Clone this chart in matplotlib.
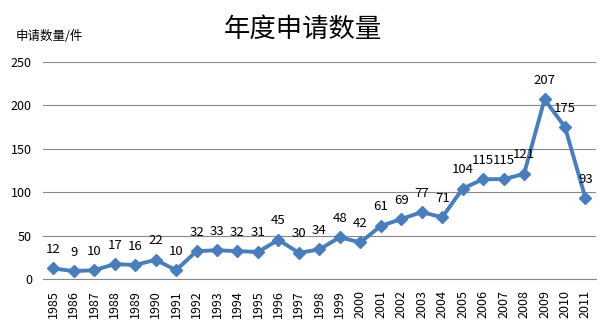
import matplotlib
matplotlib.use("Agg")
import matplotlib.pyplot as plt

plt.rcParams['font.family'] = ['Noto Sans CJK SC', 'DejaVu Sans']

years = ['1985', '1986', '1987', '1988', '1989', '1990', '1991', '1992', '1993',
         '1994', '1995', '1996', '1997', '1998', '1999', '2000', '2001', '2002',
         '2003', '2004', '2005', '2006', '2007', '2008', '2009', '2010', '2011']
counts = [12, 9, 10, 17, 16, 22, 10, 32, 33, 32, 31, 45, 30, 34, 48, 42,
          61, 69, 77, 71, 104, 115, 115, 121, 207, 175, 93]
y_ticks = [0, 50, 100, 150, 200, 250]

fig = plt.figure(figsize=(6.06, 3.32), dpi=100)
ax = fig.add_axes([0.071, 0.160, 0.912, 0.653])

x = list(range(len(years)))
ax.plot(x, counts, color='#4A7EBB', linewidth=2.8, marker='D', markersize=6.5,
        zorder=3)

# value labels above each point
for xi, v in zip(x, counts):
    ax.annotate(str(v), (xi, v), xytext=(0, 9), textcoords='offset points',
                ha='center', va='bottom', fontsize=9.5, color='black')

ax.set_xlim(-0.5, len(years) - 0.5)
ax.set_ylim(0, 250)
ax.set_yticks(y_ticks)
ax.set_xticks(x)
ax.set_xticklabels(years, rotation=90, fontsize=9)
ax.tick_params(axis='y', labelsize=9, length=0, pad=8)
ax.tick_params(axis='x', length=0, pad=8)
ax.grid(axis='y', color='#888888', linewidth=0.8)
ax.set_axisbelow(True)
for side in ['top', 'right', 'left']:
    ax.spines[side].set_visible(False)
ax.spines['bottom'].set_color('#888888')

fig.text(0.5, 0.912, '年度申请数量', ha='center', va='center', fontsize=19)
fig.text(0.025, 0.89, '申请数量/件', ha='left', va='center', fontsize=9)

fig.savefig('out.png', dpi=100)
